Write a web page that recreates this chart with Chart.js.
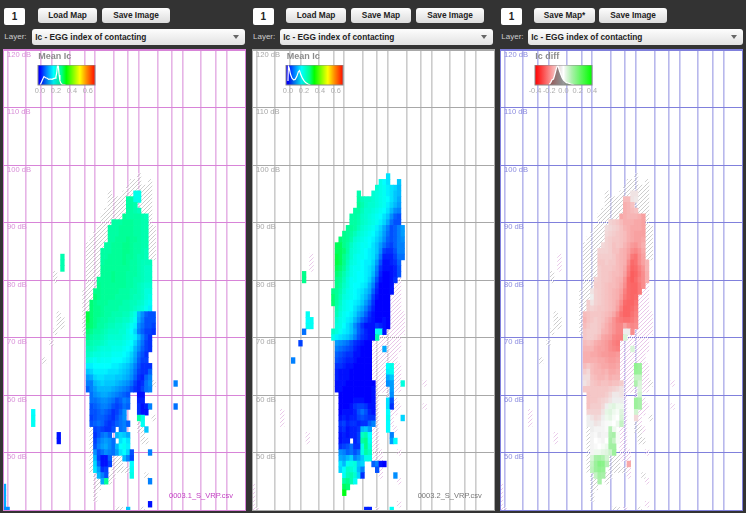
<!DOCTYPE html>
<html>
<head>
<meta charset="utf-8">
<title>Mean Ic maps</title>
<script src="https://cdn.jsdelivr.net/npm/chart.js@4"></script>
<style>
html, body { margin: 0; padding: 0; background: #333; overflow: hidden; }
body { width: 746px; height: 513px; position: relative; font-family: "Liberation Sans", Arial, sans-serif; }
.box, .btn, .drop, .lay, .name, .title { position: absolute; white-space: nowrap; }
.box { background: #fff; border-radius: 2px; height: 17px; line-height: 17px; text-align: center; font-weight: bold; font-size: 10px; color: #222; }
.btn { top: 8px; height: 15px; line-height: 15px; text-align: center; font-weight: bold; font-size: 8.3px; color: #222; border-radius: 3px;
       background: linear-gradient(#fdfdfd, #dcdcdc); }
.drop { top: 29px; height: 16px; line-height: 16px; font-weight: bold; font-size: 8.3px; color: #222; border-radius: 3px; padding-left: 3px; box-sizing: border-box;
        background: linear-gradient(#fdfdfd, #e2e2e2); }
.drop:after { content: ""; position: absolute; right: 6px; top: 6px; border: 3px solid transparent; border-top: 4px solid #666; border-bottom: 0; }
.lay { top: 31px; font-size: 8px; line-height: 12px; color: #ccc; }
.name { top: 491px; font-size: 7.5px; line-height: 10px; }
.title { top: 51px; font-size: 9px; line-height: 11px; font-weight: bold; color: #8c8c8c; }
canvas { position: absolute; }
</style>
</head>
<body>
<script>
// pitch axis: midi note numbers of the grid lines and their names
const pitchTicks = [31, 36, 40, 43, 48, 52, 55, 60, 64, 67, 72, 76, 79, 84, 88, 91];
const pitchLabels = ['G1', 'C2', 'E2', 'G2', 'C3', 'E3', 'G3', 'C4', 'E4', 'G4', 'C5', 'E5', 'G5', 'C6', 'E6', 'G6'];
const dbTicks = [50, 60, 70, 80, 90, 100, 110, 120];

// legend ticks and colour scales [value, colour]
const icLegendTicks = [0, 0.2, 0.4, 0.6];
const diffLegendTicks = [-0.4, -0.2, 0, 0.2, 0.4];
const icStops = [[0, '#0000ff'], [0.08, '#0080ff'], [0.17, '#00ffff'], [0.27, '#00ff8c'], [0.33, '#00ff00'], [0.5, '#ffff00'], [0.58, '#ff9000'], [0.7, '#ff0000']];
const diffStops = [[-0.4, '#ff0000'], [-0.12, '#f7bcbc'], [-0.03, '#eeeeee'], [0, '#ffffff'], [0.03, '#e6f6e6'], [0.12, '#a8f0a8'], [0.4, '#00ff00']];

// legend histograms
const hist1X = [0, 0.01, 0.03, 0.05, 0.07, 0.09, 0.11, 0.13, 0.15, 0.17, 0.19, 0.2, 0.21, 0.22, 0.23, 0.24, 0.25, 0.26, 0.28, 0.32];
const hist1Y = [0.03, 0.06, 0.25, 0.42, 0.36, 0.34, 0.28, 0.3, 0.28, 0.32, 0.34, 0.42, 0.6, 1, 0.95, 0.5, 0.22, 0.1, 0.02, 0];
const hist2X = [0, 0.005, 0.015, 0.03, 0.05, 0.07, 0.09, 0.11, 0.13, 0.145, 0.16, 0.18, 0.2, 0.22, 0.25, 0.28];
const hist2Y = [0.2, 0.95, 0.85, 0.55, 0.34, 0.26, 0.28, 0.42, 0.66, 0.72, 0.52, 0.34, 0.22, 0.12, 0.05, 0];
const hist3X = [-0.2, -0.18, -0.16, -0.14, -0.12, -0.1, -0.08, -0.06, -0.04, -0.02, 0, 0.02, 0.04, 0.06, 0.08, 0.1, 0.12, 0.15];
const hist3Y = [0.03, 0.12, 0.26, 0.3, 0.55, 0.82, 1, 0.75, 0.55, 0.36, 0.25, 0.18, 0.12, 0.1, 0.08, 0.05, 0.03, 0];

// map cells: [dB, first midi note, values in hundredths ...]
const ic1Rows = [
  [95,66,19,19],[94,64,25,25,19,19],[93,64,25,25,24],[92,64,25,25,24,23],[91,63,26,25,25,25,25,24,23],
  [90,60,25,25,25,26,26,26,25,25,24,24],[89,59,25,25,25,26,26,26,26,25,25,24,24],[88,59,25,25,25,26,26,26,26,25,25,24,24],
  [87,59,25,25,26,26,26,27,26,26,25,24,24],[86,58,25,25,26,26,26,27,27,26,25,25,24,24],
  [85,57,25,25,25,26,26,26,27,27,26,25,25,24,23],[84,57,25,25,26,26,26,26,27,26,26,25,24,24,23],
  [83,57,25,26,26,26,26,26,27,26,25,25,24,23,23,23],[82,57,26,26,26,26,26,26,26,26,25,25,24,23,22,22],
  [81,57,26,26,26,27,26,26,26,25,25,25,24,23,22,22],[80,56,26,26,26,26,27,26,26,26,25,25,24,24,23,22,22],
  [79,56,27,26,26,26,26,26,26,26,25,25,24,23,22,21,21],[78,55,27,27,26,26,26,26,26,25,25,25,24,24,23,22,20,20],
  [77,55,28,27,26,26,26,26,25,25,25,25,24,23,23,22,20,19],[76,54,28,27,26,26,26,25,25,25,25,24,24,23,23,22,21,19,18],
  [75,54,28,27,27,26,25,25,25,25,24,24,24,23,22,21,20,18,16],
  [74,53,30,28,27,27,26,25,25,24,24,24,23,23,21,19,12,9,6,5,5],[73,53,30,28,27,26,25,25,24,24,23,23,22,22,20,18,11,8,5,5,5],
  [72,53,29,28,27,25,25,24,23,23,22,22,21,20,18,16,9,7,5,5,4],[71,53,28,27,25,25,24,23,22,22,22,21,21,19,17,14,8,6,4,4,3],
  [70,53,27,25,24,24,23,22,21,21,21,21,20,19,18,16,12,8,5,3],[69,53,25,24,23,23,22,21,20,20,20,20,19,18,17,14,10,7,4,3],
  [68,53,23,23,22,21,20,20,20,19,19,19,18,17,16,12,9,6,4,3],[67,53,22,21,20,20,19,19,19,18,18,18,17,16,14,11,7,5,3],
  [66,53,20,19,18,19,18,18,18,17,17,17,16,15,13,10,6,4,4],[65,53,16,16,17,17,17,17,17,16,16,15,14,13,11,8,5,3,3,3],
  [64,53,13,14,16,16,16,16,15,15,15,14,13,12,10,7,4,3,3,6],[63,53,10,11,14,15,15,14,14,14,13,13,12,11,9,6,3,2,6,8],
  [62,53,8,8,12,13,14,13,13,13,12,11,10,9,7,4,2,3,7,9],[61,53,6,8,10,12,12,12,12,11,10,9,8,7,5,3,2,4,7,8],
  [60,54,7,9,10,11,11,10,9,8,7,6,5],[60,67,1,1],[59,54,7,7,8,9,9,8,7,5,6,8,7],[59,67,2,2],
  [58,54,5,6,7,8,8,7,5,4,5,7,6],[58,67,3,1,2,8],[57,54,5,5,6,7,6,5,3,4,6,9],[57,67,3,1,1],
  [56,54,4,5,6,6,5,4,3,5,7,9],[56,67,25,19],[55,54,5,6,7,6,4,3,4,6,7,8,6],[55,68,18],
  [54,55,4,5,4,3,3,5],[54,62,7,8],[54,69,13],[53,55,3,5,7,8,6],[53,61,12,14,13,11],
  [52,55,4,7,9,10,9,7],[52,62,15,17,15],[51,55,5,8,10,11,9,7,12,17,18,16],[50,55,9,5,7,9,8,7,10,15,17,14,5],
  [49,55,12,4,1,1,6],[49,63,12,8,4],[48,55,14,6,1,1,4],[48,65,17],[47,55,15,10,3,4],[47,65,18],
  [46,56,12,8,5],[46,65,19],[45,57,11,26],
  [50,70,8],[45,70,8],[41,70,1],[62,77,8],[58,77,7],[57,38,17],[56,38,18],[55,38,18],[53,45,1],[52,45,1],
  [84,46,24],[83,46,24],[82,46,24],[44,30,11],[43,30,11],[42,30,11],[41,30,11],[40,30,9,9],[40,64,13]
];
const ic2Rows = [
  [98,67,15],[97,65,19,17,15],[97,70,13],[96,64,21,19,18,16,15,14,12],[95,59,24],[95,63,21,20,19,18,16,15,13,12],
  [94,59,25,23,22,22,21,20,19,18,17,15,13,11],[93,59,26,24,22,21,21,20,19,18,16,14,12,10],
  [92,58,25,25,23,21,21,20,19,18,17,15,12,9,8],[91,57,25,25,24,22,21,20,19,18,17,15,13,9,6,5],
  [90,57,25,25,24,22,21,20,19,18,16,14,11,7,5,5],[89,56,26,26,25,23,21,20,19,18,16,14,11,8,5,6,8,10],
  [88,55,27,26,25,23,21,20,19,18,17,15,13,10,7,5,6,8,10],[87,54,28,27,26,24,21,20,19,18,17,16,14,12,9,6,5,6,8,9],
  [86,53,29,29,27,25,22,20,19,18,18,17,15,13,10,7,5,4,6,8,8],[85,53,29,29,28,25,21,20,19,18,17,16,15,13,9,4,3,3,5,8,8],
  [84,53,30,29,27,24,21,19,18,18,17,16,15,12,7,2,2,2,4,7,7],[83,53,30,29,27,23,20,19,18,17,16,16,14,10,5,1,1,2,3,6],
  [82,53,29,28,26,22,19,18,18,17,16,15,13,8,3,1,1,1,2,5],[81,53,28,27,24,21,19,18,17,17,16,15,12,7,2,0,0,1,2,5],
  [80,53,27,26,23,20,18,18,17,17,16,14,10,5,1,0,0,1,3],[79,53,27,25,22,20,18,17,17,16,15,12,8,3,0,0,0,1],
  [78,52,27,26,24,21,19,18,17,16,15,13,11,6,2,0,0,0,1],[77,52,28,26,23,20,19,18,17,16,14,12,9,4,1,0,0,0],
  [76,52,28,25,22,19,18,17,16,15,13,10,7,3,0,0,0,0],[75,53,24,21,19,18,17,15,13,11,8,5,2,0,0,0,0],
  [74,53,23,20,18,17,16,14,11,9,6,3,1,0,0,0,0],[73,53,21,19,18,16,15,12,9,6,4,2,1,0,0,1,0],
  [72,53,20,19,17,15,13,9,6,3,1,1,1,3,2,1,0],[71,52,22,20,18,16,15,13,10,6,4,2,1,1,18,18,1],
  [70,52,19,16,15,14,13,11,8,5,3,2,1,1],[70,64,24],
  [69,53,10,9,8,7,5,3,2,1,0,0],[68,53,8,7,6,5,4,2,1,0,0,0],[67,53,6,5,4,3,3,1,1,0,0,0],[66,53,5,4,3,2,2,1,0,0,0,0],
  [65,53,3,3,2,1,1,0,0,0,0,0],[64,53,2,1,1,1,0,0,0,0,0,0],[63,53,2,1,1,1,0,0,0,0,0,0],[62,53,1,1,1,0,0,0,0,0,0,0,0],
  [61,53,1,1,0,0,0,0,0,0,0,0,1],[60,54,0,0,0,0,0,0,0,0,0,1],[59,54,0,0,0,0,1,1,1,0,0,1],[58,54,0,0,0,1,3,4,4,3,1,1],
  [57,54,0,1,1,1,2,5,7,5,2,1],[56,54,1,2,1,2,2,4,5,4,3,3],[55,54,3,4,2,3,3,2,3,3,6,8],[54,54,2,3,1,2,2,3,12,13,10],
  [53,54,1,2,1,2,2,4,22,24,17],[52,54,1,2,2],[52,58,2,4,25,27,18],[51,54,3,4,5,7,3,3,19,27,20],[50,54,9,8,6,7,5,7,19,25,22],
  [49,54,11,10,12,14,8,10,13,19,19],[48,54,15,12,18,19,20,13,14],[48,63,6,8,1,0],[47,54,14,17,22,21,19,12,8],[47,64,5],
  [46,55,18,23,24,21,14,3],[45,55,25,27,24,18],[44,55,29,28],[43,55,32],
  [69,43,4],[66,41,8],[81,44,27],[80,44,27],[74,45,18],[73,45,17,18],[72,45,18,18],[71,44,7],[68,66,11],
  [65,67,17,19],[64,67,16,18],[63,67,11,13],[62,67,9,10],[61,68,10],[60,68,9],[59,67,15,5],[58,67,15,3],
  [57,67,17],[56,67,18],[55,67,17],[54,67,17],[62,71,20],[56,71,14],[53,68,8],[52,68,10,17],[46,69,9],[40,61,2,2],[40,68,18]
];
const diffRows = [
  [95,66,-5,-5],[94,64,-12,-12,-5,-4],[93,64,-14,-13,-11],[92,64,-14,-13,-12,-11],[91,63,-15,-14,-13,-13,-13,-14,-16],
  [90,60,-8,-9,-10,-12,-14,-14,-14,-15,-15,-16],[89,59,-6,-7,-8,-9,-11,-13,-14,-15,-15,-15,-16],[88,59,-7,-8,-9,-10,-11,-12,-14,-15,-16,-16,-16],
  [87,59,-8,-9,-10,-10,-11,-12,-14,-15,-16,-16,-15],[86,58,-7,-8,-9,-11,-10,-11,-13,-15,-17,-18,-16,-14],
  [85,57,-8,-8,-8,-9,-11,-11,-13,-14,-16,-19,-20,-18,-15],[84,57,-9,-9,-9,-9,-10,-12,-13,-14,-17,-22,-23,-19,-16],
  [83,57,-10,-10,-9,-10,-10,-12,-13,-14,-19,-24,-23,-19,-16,-13],[82,57,-9,-10,-10,-10,-11,-12,-13,-15,-21,-25,-24,-21,-18,-13],
  [81,57,-9,-10,-10,-11,-12,-12,-13,-16,-22,-26,-25,-22,-19,-14],[80,56,-8,-9,-10,-10,-11,-12,-13,-14,-18,-24,-26,-24,-21,-19,-14],
  [79,56,-9,-9,-10,-11,-12,-12,-13,-15,-19,-24,-25,-25,-22,-19],[78,55,-5,-8,-9,-10,-11,-12,-13,-14,-16,-21,-24,-25,-25,-22],
  [77,55,-3,-8,-9,-10,-11,-12,-13,-14,-17,-22,-24,-25,-24],[76,54,-9,-5,-8,-9,-10,-11,-12,-13,-15,-19,-24,-25,-25,-23],
  [75,54,-9,-8,-9,-10,-10,-11,-12,-13,-16,-21,-25,-25,-24,-22],[74,53,-12,-11,-10,-10,-10,-11,-12,-13,-15,-19,-23,-25,-25,-23,-21],
  [73,53,-13,-11,-10,-9,-10,-11,-13,-15,-18,-21,-22,-23,-23,-22,-20],[72,53,-12,-10,-9,-9,-10,-12,-14,-16,-18,-20,-20,-16,-19,-20,-19],
  [71,53,-10,-9,-9,-9,-10,-13,-14,-16,-18,-20,-20,-3,-3,-19],[70,53,-10,-9,-9,-10,-12,-15,-16,-17,-20,-21,-21,5],
  [69,53,-12,-11,-12,-14,-15,-16,-17,-19,-21,-22],[68,53,-13,-13,-13,-15,-16,-16,-17,-19,-20,-21],[68,66,5],
  [67,53,-14,-14,-15,-15,-16,-17,-17,-18,-18,-17],[66,53,-14,-14,-14,-14,-15,-15,-16,-17,-17,-16],
  [65,53,-12,-10,-12,-13,-14,-15,-15,-16,-16,-15],[65,67,16,14],[64,53,-9,-7,-12,-13,-13,-14,-13,-15,-15,-14],[64,67,15,14],
  [63,53,-6,-6,-11,-12,-13,-13,-12,-14,-13,-13],[63,67,8,8],[62,53,-5,-7,-10,-11,-12,-11,-11,-12,-11,-11,-9],[62,67,11,5],
  [61,53,-10,-10,-10,-10,-10,-10,-10,-9,-8,-7,-5],[61,68,4],[60,54,-11,-10,-10,-10,-10,-9,-7,-4,-4,-5],[60,68,6],
  [59,54,-11,-10,-10,-9,-8,-7,-5,-3,-3,-3],[59,67,14,12],[58,54,-11,-9,-9,-9,-7,-3,3,4,2,2],[58,67,14,12],
  [57,54,-8,-8,-8,-8,-5,3,4,2,1,4],[57,67,6],[56,54,-3,-5,-7,-6,-3,2,3,1,0,5],[56,67,-7],[55,54,-3,-3,-5,-4,-2,-1,1,0,2,8],
  [54,55,-3,-2,-2,-2,-1,10,2],[53,55,-2,-1,-3,-2,-2,11,12,1],[52,55,-2,0,-1,-2,0,12,8,1],[51,55,-2,-1,0,1,2,13,13],
  [50,55,-2,2,2,3,4,7,14],[49,55,5,12,13,11,6],[48,55,8,14,18,17,10],[48,65,-15],[47,55,9,14,16,15],[46,56,8,13,12],[45,57,12]
];

// hatched cells: [dB, first midi note, last midi note]
const hatchGrey = [
  [98,67,67],[97,65,67],[97,70,70],[96,64,70],[95,59,59],[95,63,65],[95,68,70],[94,59,63],[94,68,70],[93,59,63],[93,67,70],
  [92,58,63],[92,68,70],[91,57,62],[91,70,70],[90,57,59],[90,70,70],[89,56,58],[89,70,71],[88,55,58],[88,70,71],[87,54,58],[87,70,71],
  [86,53,57],[86,70,71],[85,53,56],[85,70,71],[84,53,56],[84,70,71],[83,53,56],[82,53,56],[81,53,56],[80,53,55],[79,53,55],
  [78,52,54],[77,52,54],[76,52,53],[75,52,53],[74,52,52],[73,52,52],[72,52,52],[71,52,52],
  [81,44,44],[80,44,44],[74,45,45],[73,45,46],[72,45,46],[71,44,44],[69,43,43],[66,41,41],[62,71,71],[56,71,71],
  [54,54,54],[53,54,54],[52,54,54],[51,54,54],[50,54,54],[49,54,54],[48,54,54],[47,54,54],[46,55,55],[45,55,56],[44,55,56],[43,55,55],[42,55,55],
  [49,60,62],[48,60,62],[47,60,64],[46,59,60],[45,59,59],[55,67,67],[54,67,68],[53,68,68],[52,68,69],[46,69,69],[40,61,62],[40,68,68]
];
const hatchPink = [
  [84,46,46],[83,46,46],[82,46,46],[80,70,70],[79,69,70],[78,69,70],[77,68,70],[76,68,70],[75,68,70],[74,68,71],[73,68,71],[72,68,71],[71,67,71],
  [70,65,70],[69,63,70],[68,63,65],[68,67,70],[67,63,69],[66,63,69],[65,63,66],[65,69,70],[64,63,66],[64,69,70],[63,63,66],[63,69,70],
  [62,64,66],[62,69,70],[61,64,67],[61,69,70],[60,64,64],[60,67,67],[59,64,64],[59,69,69],[58,64,64],[58,69,70],[57,64,64],[57,68,69],
  [56,64,64],[56,68,68],[55,63,64],[55,68,68],[54,63,64],[54,69,69],[53,63,64],[52,63,64],[51,63,64],[50,63,65],[50,70,70],[49,63,65],
  [48,65,65],[47,65,65],[46,65,65],[45,70,70],[41,70,70],[62,77,77],[58,77,77],[57,38,38],[56,38,38],[55,38,38],[53,45,45],[52,45,45],
  [44,30,30],[43,30,30],[42,30,30],[41,30,30],[40,30,31],[40,64,64]
];

const FONT = 'Liberation Sans';
const MIDI_MIN = 30, MIDI_MAX = 96, DB_MIN = 40, DB_MAX = 120;

//colour from a stops list, straight mix between neighbours
function hex2rgb(h) { return [1, 3, 5].map(i => parseInt(h.slice(i, i + 2), 16)); }
function colorAt(stops, v) {
    if (v <= stops[0][0]) return stops[0][1];
    for (let i = 1; i < stops.length; i++) {
        if (v <= stops[i][0]) {
            const t = (v - stops[i - 1][0]) / (stops[i][0] - stops[i - 1][0]);
            const a = hex2rgb(stops[i - 1][1]), b = hex2rgb(stops[i][1]);
            return 'rgb(' + a.map((c, k) => Math.round(c + (b[k] - c) * t)).join(',') + ')';
        }
    }
    return stops[stops.length - 1][1];
}

function cellsFrom(rows) {
    const out = [];
    rows.forEach(r => {
        r.slice(2).forEach((v, i) => out.push({ x: r[1] + i, y: [r[0] - 0.5, r[0] + 0.5], v: v / 100 }));
    });
    return out;
}
function hatchFrom(rows) {
    const out = [];
    rows.forEach(r => {
        for (let m = r[1]; m <= r[2]; m++) out.push({ x: m, y: [r[0] - 0.5, r[0] + 0.5] });
    });
    return out;
}

//diagonal stripe fill for the hatched cells
function hatchPattern(color) {
    const c = document.createElement('canvas');
    c.width = 4; c.height = 4;
    const g = c.getContext('2d');
    function stripes(style, shift, w) {
        g.strokeStyle = style; g.lineWidth = w;
        for (let k = -8; k <= 8; k += 4) {
            g.beginPath(); g.moveTo(k + shift, 4); g.lineTo(k + 4 + shift, 0); g.stroke();
        }
    }
    stripes('rgba(255,255,255,0.9)', 2, 1);
    stripes(color, 0, 0.8);
    return g.createPattern(c, 'repeat');
}

function addCanvas(x, y, w, h) {
    const c = document.createElement('canvas');
    c.width = w; c.height = h;
    c.style.left = x + 'px'; c.style.top = y + 'px';
    c.style.width = w + 'px'; c.style.height = h + 'px';
    document.body.appendChild(c);
    return c;
}
function addDiv(cls, text, x, w, extra) {
    const d = document.createElement('div');
    d.className = cls; d.textContent = text; d.style.left = x + 'px';
    if (w) d.style.width = w + 'px';
    if (extra) Object.assign(d.style, extra);
    document.body.appendChild(d);
}

//the big map, cells and hatching are floating bars on linear scales
function drawMap(p) {
    const c = addCanvas(p.x, 50, 241, 460);
    c.style.background = '#fff';
    c.style.outline = '1px solid ' + p.grid;
    const noPad = s => { s.paddingLeft = s.paddingRight = s.paddingTop = s.paddingBottom = 0; };
    const hatchSets = p.hatches.map(h => ({
        data: hatchFrom(h.rows),
        backgroundColor: hatchPattern(h.color),
        barThickness: 3.65,
        grouped: false,
        borderWidth: 0
    }));
    new Chart(c.getContext('2d'), {
        type: 'bar',
        data: {
            datasets: [{
                data: cellsFrom(p.rows),
                backgroundColor: ctx => colorAt(p.stops, ctx.raw.v),
                barThickness: 3.65,
                grouped: false,
                borderWidth: 0
            }].concat(hatchSets)
        },
        options: {
            responsive: false,
            animation: false,
            events: [],
            layout: { padding: 0 },
            plugins: { legend: { display: false }, tooltip: { enabled: false } },
            scales: {
                x: {
                    type: 'linear', min: MIDI_MIN, max: MIDI_MAX, offset: false,
                    afterBuildTicks: s => { s.ticks = pitchTicks.map(v => ({ value: v })); },
                    afterFit: s => { s.height = 0; noPad(s); },
                    grid: { color: p.gridSoft, lineWidth: 1.6, drawTicks: false, offset: false },
                    border: { display: false },
                    ticks: {
                        z: 1, autoSkip: false, maxRotation: 0, padding: -9, labelOffset: 6.5,
                        color: p.xText, font: { family: FONT, size: 7.4 },
                        callback: v => pitchLabels[pitchTicks.indexOf(v)]
                    }
                },
                y: {
                    type: 'linear', min: DB_MIN, max: DB_MAX,
                    afterBuildTicks: s => { s.ticks = dbTicks.map(v => ({ value: v })); },
                    afterFit: s => { s.width = 0; noPad(s); },
                    grid: { color: p.grid, lineWidth: 1, drawTicks: false },
                    border: { display: false },
                    ticks: {
                        z: 1, mirror: true, padding: 3, labelOffset: 4.5,
                        color: p.yText, font: { family: FONT, size: 7.6 },
                        callback: v => v + ' dB'
                    }
                }
            }
        }
    });
}

//colour bar with the histogram on top, another small chart
const barBack = {
    id: 'barBack',
    beforeDatasetsDraw(chart, args, opts) {
        const a = chart.chartArea, xs = chart.scales.x, ctx = chart.ctx;
        const g = ctx.createLinearGradient(xs.getPixelForValue(opts.stops[0][0]), 0, xs.getPixelForValue(opts.stops[opts.stops.length - 1][0]), 0);
        const lo = opts.stops[0][0], hi = opts.stops[opts.stops.length - 1][0];
        opts.stops.forEach(s => g.addColorStop((s[0] - lo) / (hi - lo), s[1]));
        ctx.save();
        ctx.fillStyle = g;
        ctx.fillRect(a.left, a.top, a.width, a.height);
        ctx.restore();
    },
    afterDraw(chart) {
        const a = chart.chartArea, ctx = chart.ctx;
        ctx.save();
        ctx.strokeStyle = '#8a8a8a';
        ctx.lineWidth = 1;
        ctx.strokeRect(a.left, a.top, a.width, a.height);
        ctx.restore();
    }
};

function drawLegend(l) {
    const pad = 12;
    const c = addCanvas(l.x - pad, 65, 57 + pad * 2, 33);
    new Chart(c.getContext('2d'), {
        type: 'line',
        data: {
            datasets: [{
                data: l.histX.map((v, i) => ({ x: v, y: l.histY[i] })),
                borderColor: '#fff', borderWidth: 1.2, pointRadius: 0, tension: 0,
                fill: 'origin', backgroundColor: l.shade
            }]
        },
        plugins: [barBack],
        options: {
            responsive: false,
            animation: false,
            events: [],
            layout: { padding: { left: pad, right: pad, top: 0, bottom: 0 } },
            plugins: { legend: { display: false }, tooltip: { enabled: false }, barBack: { stops: l.stops } },
            scales: {
                x: {
                    type: 'linear', min: l.min, max: l.max,
                    afterBuildTicks: s => { s.ticks = l.ticks.map(v => ({ value: v })); },
                    afterFit: s => { s.height = 13; s.paddingLeft = s.paddingRight = 0; },
                    grid: { display: false, drawTicks: false },
                    border: { display: false },
                    ticks: {
                        autoSkip: false, maxRotation: 0, padding: 2,
                        color: '#adadad', font: { family: FONT, size: 7.4 },
                        callback: v => v.toFixed(1)
                    }
                },
                y: { type: 'linear', min: 0, max: 1, display: false }
            }
        }
    });
}

function toolbar(t) {
    addDiv('box', '1', t.box, 20.5, { top: '7.5px' });
    t.buttons.forEach(b => addDiv('btn', b[0], b[1], b[2]));
    addDiv('lay', 'Layer:', t.box);
    addDiv('drop', 'Ic - EGG index of contacting', t.drop, t.dropW);
}

toolbar({ box: 4.3, drop: 32.3, dropW: 213, buttons: [['Load Map', 37.7, 59.6], ['Save Image', 102.3, 67.4]] });
toolbar({ box: 253, drop: 280.3, dropW: 213, buttons: [['Load Map', 286, 60], ['Save Map', 351, 60], ['Save Image', 416, 68]] });
toolbar({ box: 501.3, drop: 528.3, dropW: 214.7, buttons: [['Save Map*', 534.3, 60.4], ['Save Image', 599.3, 67.7]] });

drawMap({ x: 4, rows: ic1Rows, stops: icStops, grid: '#d884d8', gridSoft: '#e6b4e6', xText: '#b65cc6', yText: '#d88fd8',
          hatches: [{ rows: hatchGrey, color: '#c4c4c4' }] });
drawMap({ x: 252.7, rows: ic2Rows, stops: icStops, grid: '#a8a8a8', gridSoft: '#cccccc', xText: '#8f8f8f', yText: '#a8a8a8',
          hatches: [{ rows: hatchPink, color: '#e5bce5' }] });
drawMap({ x: 500.7, rows: diffRows, stops: diffStops, grid: '#8080dc', gridSoft: '#b8b8ec', xText: '#7f7fd6', yText: '#8c8ce0',
          hatches: [{ rows: hatchGrey, color: '#c4c4c4' }, { rows: hatchPink, color: '#e5bce5' }] });

drawLegend({ x: 37.7, stops: icStops, ticks: icLegendTicks, min: -0.025, max: 0.69, histX: hist1X, histY: hist1Y, shade: 'rgba(0,0,0,0.08)' });
drawLegend({ x: 286, stops: icStops, ticks: icLegendTicks, min: -0.025, max: 0.69, histX: hist2X, histY: hist2Y, shade: 'rgba(0,0,0,0.08)' });
drawLegend({ x: 535, stops: diffStops, ticks: diffLegendTicks, min: -0.4, max: 0.4, histX: hist3X, histY: hist3Y, shade: 'rgba(0,0,0,0.4)' });

addDiv('title', 'Mean Ic', 38.3);
addDiv('title', 'Mean Ic', 286.7);
addDiv('title', 'Ic diff', 535.3);
addDiv('name', '0003.1_S_VRP.csv', 169, 0, { color: '#c23fc2' });
addDiv('name', '0003.2_S_VRP.csv', 417.7, 0, { color: '#777' });
</script>
</body>
</html>
